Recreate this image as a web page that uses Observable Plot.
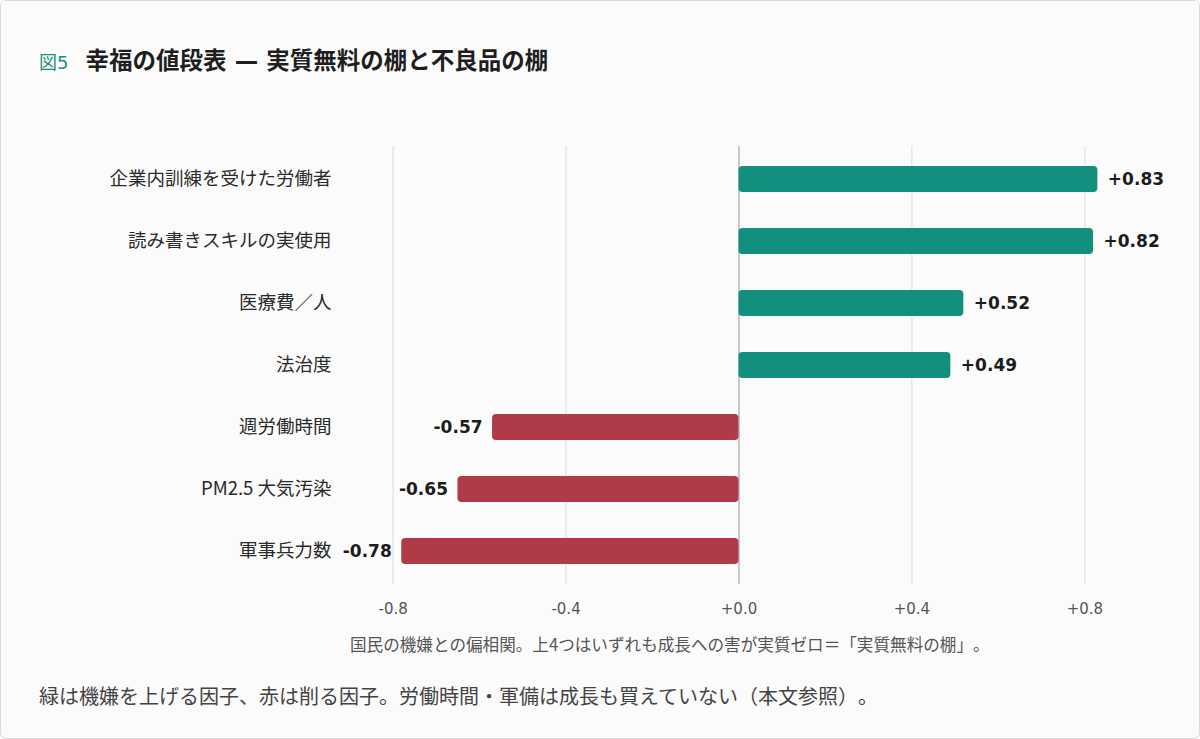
<!DOCTYPE html>
<html><head><meta charset="utf-8">
<script src="https://cdn.jsdelivr.net/npm/d3@7"></script>
<script src="https://cdn.jsdelivr.net/npm/@observablehq/plot@0.6"></script>
<style>
html,body{margin:0;padding:0;background:#fff;}
body{font-family:"DejaVu Sans","Noto Sans CJK JP",sans-serif;text-spacing-trim:space-all;}
#card{position:relative;width:1198px;height:737px;border:1px solid #d9d9d9;border-radius:6px;background:#fbfbfb;overflow:hidden;}
#title{position:absolute;left:38px;top:41px;font-size:23.5px;font-weight:bold;color:#1e1e1e;font-family:"DejaVu Sans","Noto Sans CJK JP",sans-serif;white-space:nowrap;}
#title .fig{font-size:18px;font-weight:normal;color:#1a8f7f;margin-right:17px;}
#chart{position:absolute;left:38px;top:100px;}
#xcap{position:absolute;left:349px;top:631px;font-size:16.6px;color:#555;font-family:"Noto Sans CJK JP",sans-serif;white-space:nowrap;text-spacing-trim:space-all;}
#foot{position:absolute;left:38px;top:680px;font-size:20px;color:#444;font-family:"Noto Sans CJK JP",sans-serif;white-space:nowrap;text-spacing-trim:space-all;}
</style></head>
<body>
<div id="card">
  <div id="title"><span class="fig">図5</span>幸福の値段表 — 実質無料の棚と不良品の棚</div>
  <div id="chart"></div>
  <div id="xcap">国民の機嫌との偏相関。上4つはいずれも成長への害が実質ゼロ＝「実質無料の棚」。</div>
  <div id="foot">緑は機嫌を上げる因子、赤は削る因子。労働時間・軍備は成長も買えていない（本文参照）。</div>
</div>
<script>
const labels = ["企業内訓練を受けた労働者","読み書きスキルの実使用","医療費／人","法治度","週労働時間","PM2.5 大気汚染","軍事兵力数"];
const values = [0.83, 0.82, 0.52, 0.49, -0.57, -0.65, -0.78];
const xTicks = [-0.8, -0.4, 0, 0.4, 0.8];

const data = labels.map((l, i) => ({label: l, value: values[i]}));
const fmt1 = v => (v >= 0 ? "+" : "-") + Math.abs(v).toFixed(1);
const fmt2 = v => (v >= 0 ? "+" : "-") + Math.abs(v).toFixed(2);

const plot = Plot.plot({
  width: 1126,
  height: 520,
  marginTop: 45,
  marginBottom: 37,
  marginLeft: 332,
  marginRight: 59,
  style: {background: "transparent", overflow: "visible", fontFamily: "'DejaVu Sans','Noto Sans CJK JP',sans-serif"},
  x: {domain: [-0.85, 0.85], ticks: xTicks, tickFormat: fmt1, label: null},
  y: {domain: labels, paddingInner: 0.583, paddingOuter: 0.293, label: null},
  marks: [
    Plot.gridX(xTicks, {stroke: "#dcdcdc", strokeOpacity: 1, strokeWidth: 1}),
    Plot.ruleX([0], {stroke: "#c8c8c8", strokeWidth: 2}),
    Plot.barX(data, {x: "value", y: "label", fill: d => d.value >= 0 ? "#138f7e" : "#b03a48", rx: 4}),
    Plot.text(data.filter(d => d.value >= 0), {x: "value", y: "label", text: d => fmt2(d.value), textAnchor: "start", dx: 10, fontSize: 17, fontWeight: "bold", fill: "#1c1c1c"}),
    Plot.text(data.filter(d => d.value < 0), {x: "value", y: "label", text: d => fmt2(d.value), textAnchor: "end", dx: -10, fontSize: 17, fontWeight: "bold", fill: "#1c1c1c"}),
    Plot.axisX({ticks: xTicks, tickFormat: fmt1, tickSize: 0, tickPadding: 19, fontSize: 15, color: "#555", label: null}),
    Plot.axisY({tickSize: 0, tickPadding: 40, fontSize: 18.5, color: "#2a2a2a", label: null, fontFamily: "'Noto Sans CJK JP','DejaVu Sans',sans-serif"})
  ]
});
document.getElementById("chart").appendChild(plot);
</script>
</body></html>
